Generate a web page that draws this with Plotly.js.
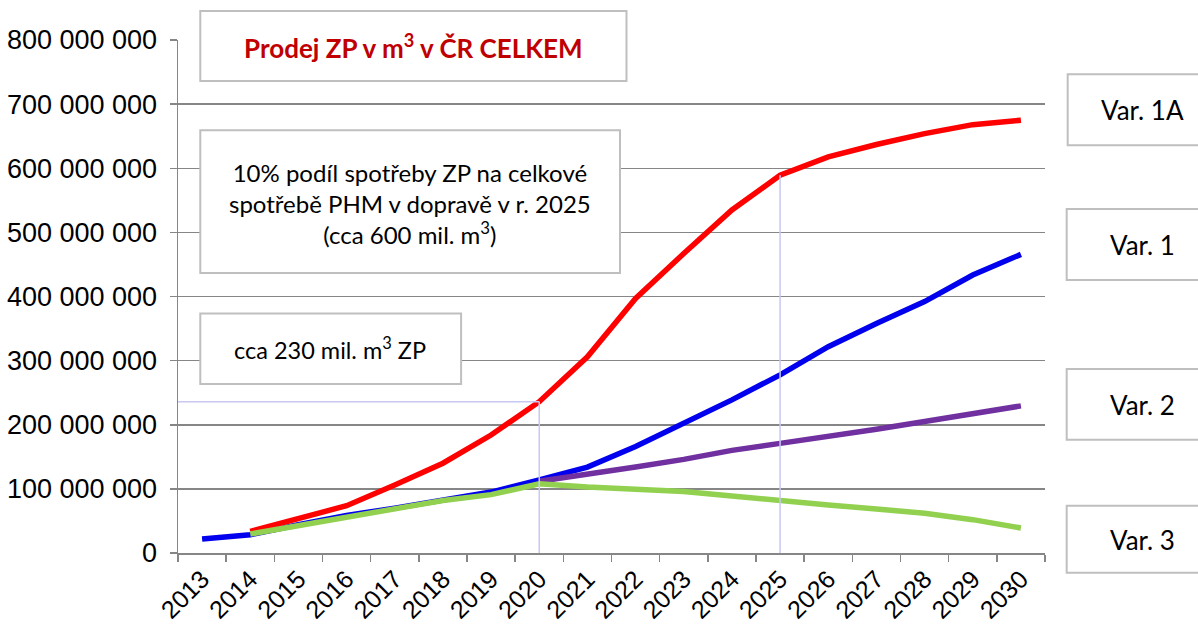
<!DOCTYPE html>
<html>
<head>
<meta charset="utf-8">
<script src="https://cdn.plot.ly/plotly-3.0.1.min.js"></script>
<style>html,body{margin:0;padding:0;background:#fff;}#chart{width:1198px;height:628px;}</style>
</head>
<body>
<div id="chart"></div>
<script>
// Data (values in m3)
const years = ["2013","2014","2015","2016","2017","2018","2019","2020","2021","2022","2023","2024","2025","2026","2027","2028","2029","2030"];
const M = 1e6;
const var1A = [null, 33.6, 54.5, 73.7, 106, 140, 184, 236, 306, 397, 467, 535, 589, 617.6, 637, 654, 668, 675];
const var1  = [21.8, 28.5, 44, 58.5, 70, 83.5, 95, 114, 134, 166, 202.5, 238.8, 277.8, 321.8, 358, 392, 433.5, 465.7];
const var2  = [null, null, null, null, null, null, null, 112, 122, 134, 146, 160, 171, 181.6, 193, 205, 217, 229.4];
const var3  = [null, 29.6, 42.5, 57, 68.5, 82, 91, 108, 102.8, 99.7, 96, 89, 83, 75, 68.5, 62, 52, 39];
const seriesNames = ["Var. 1A", "Var. 1", "Var. 2", "Var. 3"];
const yTickVals = [0, 100, 200, 300, 400, 500, 600, 700, 800];
const titleText = "Prodej ZP v m<sup>3</sup> v ČR CELKEM";
const note1 = "10% podíl spotřeby ZP na celkové<br>spotřebě PHM v dopravě v r. 2025<br>(cca 600 mil. m<sup>3</sup>)";
const note2 = "cca 230 mil. m<sup>3</sup> ZP";
const mark2020 = "2020";
const mark2025 = "2025";

const toM = a => a.map(v => v === null ? null : v * M);

const traces = [
  {x: years, y: toM(var1),  name: seriesNames[1], mode: "lines", line: {color: "#0000ee", width: 5.5}},
  {x: years, y: toM(var2),  name: seriesNames[2], mode: "lines", line: {color: "#7030a0", width: 5.5}},
  {x: years, y: toM(var1A), name: seriesNames[0], mode: "lines", line: {color: "#ff0000", width: 5.5}},
  {x: years, y: toM(var3),  name: seriesNames[3], mode: "lines", line: {color: "#92d050", width: 5.5}}
];

// plot area in px: left 177.7, right 1045.3, top 39.7, bottom 553.3
const L = 177.7, R = 1045.3, T = 39.7, B = 553.3;
const px = x => (x - L) / (R - L);
const py = y => (B - y) / (B - T);

function box(x0, y0, x1, y1) {
  return {type: "rect", xref: "paper", yref: "paper", x0: px(x0), x1: px(x1), y0: py(y1), y1: py(y0),
          fillcolor: "#ffffff", line: {color: "#bfbfbf", width: 2}, layer: "above"};
}
function label(text, cx, cy, font) {
  return {text: text, xref: "paper", yref: "paper", x: px(cx), y: py(cy), xanchor: "center", yanchor: "middle",
          showarrow: false, font: font, align: "center"};
}
const fam = "Lato, 'Open Sans', sans-serif";
const boxFont = {family: fam, size: 24, color: "#000000"};
const smallBoxFont = {family: fam, size: 23.5, color: "#000000"};
const varFont = {family: fam, size: 26, color: "#000000"};

const i2020 = years.indexOf(mark2020);
const i2025 = years.indexOf(mark2025);
const guide = {color: "#c8c8f2", width: 1.5};

const shapes = [
  {type: "line", xref: "x", yref: "y", x0: -0.5, x1: i2020, y0: var1A[i2020] * M, y1: var1A[i2020] * M, line: guide, layer: "above"},
  {type: "line", xref: "x", yref: "y", x0: i2020, x1: i2020, y0: 0, y1: var1A[i2020] * M, line: guide, layer: "above"},
  {type: "line", xref: "x", yref: "y", x0: i2025, x1: i2025, y0: 0, y1: var1A[i2025] * M, line: guide, layer: "above"},
  box(200, 10.7, 626.5, 80.7),
  box(200, 130, 620, 273),
  box(200, 313.5, 461, 384),
  box(1068, 74, 1210, 145),
  box(1067, 209, 1210, 280),
  box(1067, 369, 1210, 440),
  box(1067, 506, 1210, 573)
];

const annotations = [
  label(titleText, 413, 46, {family: fam, size: 26, color: "#c00000", weight: "bold"}),
  label(note1, 410, 203, boxFont),
  label(note2, 330, 349, smallBoxFont),
  label(seriesNames[0], 1143, 110, varFont),
  label(seriesNames[1], 1143, 245, varFont),
  label(seriesNames[2], 1143, 405, varFont),
  label(seriesNames[3], 1143, 540, varFont)
];

const layout = {
  width: 1198, height: 628,
  margin: {l: L, r: 1198 - R, t: T, b: 628 - B, pad: 0},
  paper_bgcolor: "#ffffff", plot_bgcolor: "#ffffff",
  showlegend: false,
  separators: ", ",
  font: {family: "'Liberation Sans', Arial, sans-serif", color: "#000000"},
  xaxis: {
    type: "category", categoryarray: years, range: [-0.5, years.length - 0.5],
    showline: true, linecolor: "#868686", linewidth: 1.5, mirror: false,
    ticks: "outside", tickson: "boundaries", ticklen: 7, tickcolor: "#868686", tickwidth: 1.5,
    tickangle: -45, tickfont: {size: 25, color: "#000000"},
    showgrid: false, zeroline: false, fixedrange: true
  },
  yaxis: {
    range: [0, 800 * M], tickvals: yTickVals.map(v => v * M), tickformat: ",d",
    showline: true, linecolor: "#868686", linewidth: 1.5,
    ticks: "outside", ticklen: 7, tickcolor: "#868686", tickwidth: 1.5,
    ticklabelstandoff: 7,
    tickfont: {size: 27, color: "#000000"},
    showgrid: true, gridcolor: "#868686", gridwidth: 1.5, zeroline: false, fixedrange: true
  },
  shapes: shapes,
  annotations: annotations
};

Plotly.newPlot("chart", traces, layout, {staticPlot: true, displayModeBar: false});
</script>
</body>
</html>
